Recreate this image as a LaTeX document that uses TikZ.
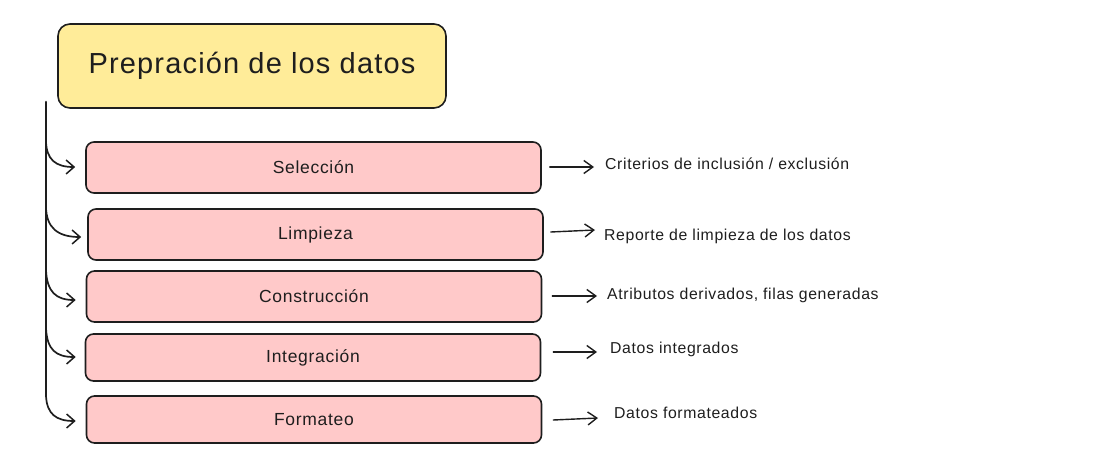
\documentclass[tikz,border=0pt]{standalone}
\usepackage{fontspec}
\setmainfont{Liberation Sans}[LetterSpace=4]
\usetikzlibrary{arrows.meta}
\definecolor{titlefill}{HTML}{FFEC99}
\definecolor{stepfill}{HTML}{FFC9C9}
\definecolor{ink}{HTML}{1E1E1E}
\tikzset{
  titlebox/.style={draw=ink, line width=1.6pt, fill=titlefill, rounded corners=12pt,
    minimum width=388pt, minimum height=84pt, font=\fontsize{29}{34}\selectfont, text=ink},
  stepbox/.style={draw=ink, line width=1.6pt, fill=stepfill, rounded corners=8pt,
    minimum width=455pt, font=\fontsize{17.5}{21}\selectfont, text=ink},
  outlabel/.style={anchor=west, inner sep=0pt, font=\fontsize{15.8}{19}\selectfont, text=ink},
  trunk/.style={draw=ink, line width=2.6pt, line cap=round},
  branch/.style={draw=ink, line width=1.7pt, line cap=round, -{Straight Barb[length=8pt,width=14pt,line width=1.5pt]}},
  outarrow/.style={draw=ink, line width=1.4pt, line cap=round, -{Straight Barb[length=9pt,width=13pt,line width=1.4pt]}}
}
\begin{document}
\begin{tikzpicture}[x=1pt,y=-1pt]
\useasboundingbox (0,0) rectangle (1111,470);
\node[titlebox] (title) at (252,66) {Prepración de los datos};
\node[stepbox, minimum height=51pt] (s1) at (313.5,167.5) {Selección};
\node[stepbox, minimum height=51pt] (s2) at (315.5,234.5) {Limpieza};
\node[stepbox, minimum height=51pt] (s3) at (314,296.5) {Construcción};
\node[stepbox, minimum height=47pt] (s4) at (313,357.5) {Integración};
\node[stepbox, minimum height=47pt] (s5) at (314,419.5) {Formateo};

\node[outlabel] (o1) at (605,164) {Criterios de inclusión / exclusión};
\node[outlabel] (o2) at (604,236) {Reporte de limpieza de los datos};
\node[outlabel] (o3) at (607,295) {Atributos derivados, filas generadas};
\node[outlabel] (o4) at (610,349) {Datos integrados};
\node[outlabel] (o5) at (614,413) {Datos formateados};

\coordinate (top) at (46,102);
\coordinate (bottom) at (46,396);
\draw[trunk] (top) -- (bottom);
\draw[branch] (46,140) .. controls (46,160) and (56,167) .. ([xshift=-10pt]s1.west |- 0,167);
\draw[branch] (46,206) .. controls (46,228) and (58,237) .. ([xshift=-6pt]s2.west |- 0,237);
\draw[branch] (46,270) .. controls (47,292) and (56,300) .. ([xshift=-10pt]s3.west |- 0,300);
\draw[branch] (46,328) .. controls (47,350) and (56,357) .. ([xshift=-9pt]s4.west |- 0,357);
\draw[branch] (bottom) .. controls (47,414) and (56,421) .. ([xshift=-10pt]s5.west |- 0,421);

\draw[outarrow] ([xshift=8pt]s1.east |- 0,167) -- ([xshift=-11pt]o1.west |- 0,167);
\draw[outarrow] ([xshift=7pt]s2.east |- 0,232) -- ([xshift=-9pt]o2.west |- 0,230);
\draw[outarrow] ([xshift=10pt]s3.east |- 0,296) -- ([xshift=-10pt]o3.west |- 0,296);
\draw[outarrow] ([xshift=12pt]s4.east |- 0,352) -- ([xshift=-13pt]o4.west |- 0,352);
\draw[outarrow] ([xshift=11pt]s5.east |- 0,420) -- ([xshift=-16pt]o5.west |- 0,418);
\end{tikzpicture}
\end{document}
